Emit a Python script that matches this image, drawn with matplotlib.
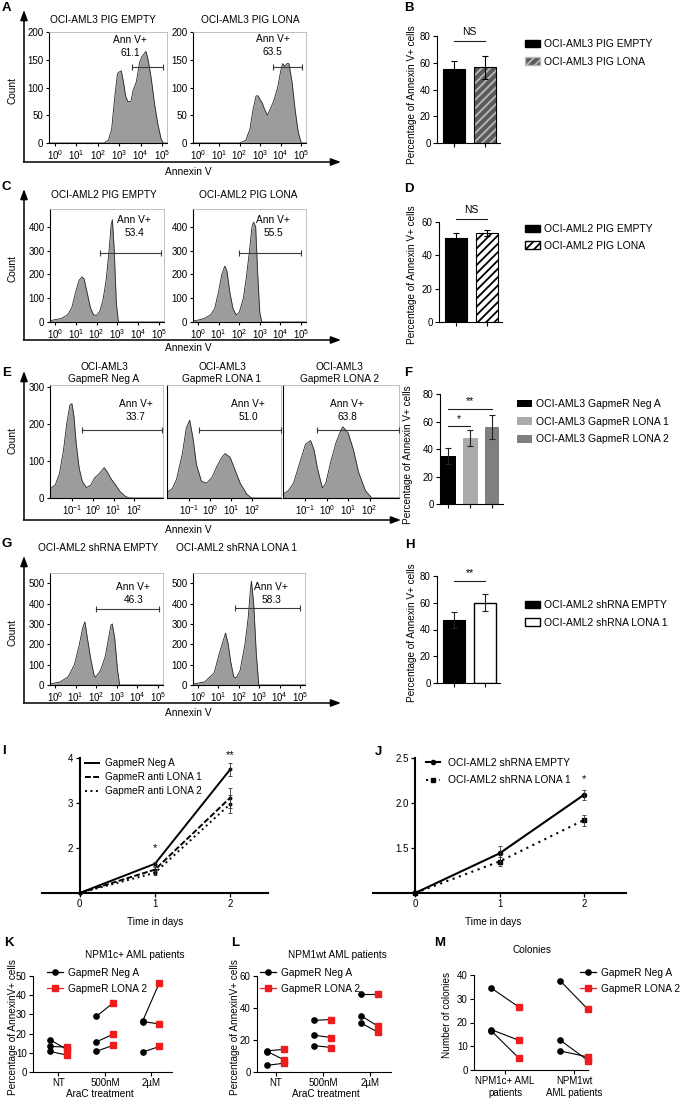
import numpy as np
import matplotlib
matplotlib.use("Agg")
import matplotlib.pyplot as plt
from matplotlib.ticker import LogLocator, NullFormatter, FormatStrFormatter
from matplotlib.patches import Patch
from matplotlib.lines import Line2D

plt.rcParams.update({
    "font.family": ["Liberation Sans", "DejaVu Sans"],
    "mathtext.fontset": "custom",
    "mathtext.rm": "Liberation Sans",
    "mathtext.it": "Liberation Sans:italic",
    "mathtext.bf": "Liberation Sans:bold",
    "mathtext.sf": "Liberation Sans",
    "font.size": 7,
    "axes.linewidth": 0.8,
    "xtick.major.size": 3, "ytick.major.size": 3,
    "xtick.major.width": 0.8, "ytick.major.width": 0.8,
    "xtick.major.pad": 1.5, "ytick.major.pad": 1.5,
    "xtick.labelsize": 7, "ytick.labelsize": 7,
    "hatch.linewidth": 1.3,
})

# ---------------- DATA ----------------
# Flow histograms: x = Annexin V intensity (log10 decade), y = count
A1_LOG = [-0.25, 2.3, 2.5, 2.65, 2.8, 2.92, 3.0, 3.1, 3.2, 3.3, 3.4, 3.55, 3.65, 3.8, 3.95, 4.05, 4.15, 4.25, 4.35, 4.5, 4.65, 4.8, 4.95, 5.05, 5.25]
A1_CNT = [0, 0, 5, 25, 85, 125, 128, 130, 110, 85, 75, 75, 95, 110, 145, 155, 160, 165, 150, 115, 70, 35, 8, 0, 0]
A2_LOG = [-0.25, 2.0, 2.3, 2.5, 2.65, 2.8, 2.9, 3.0, 3.1, 3.2, 3.35, 3.5, 3.65, 3.85, 4.0, 4.1, 4.2, 4.3, 4.4, 4.55, 4.7, 4.85, 5.0, 5.25]
A2_CNT = [0, 0, 5, 25, 60, 85, 85, 78, 72, 62, 50, 62, 75, 100, 130, 143, 138, 143, 143, 110, 60, 20, 0, 0]
C1_LOG = [-0.25, 0.0, 0.3, 0.6, 0.8, 1.0, 1.15, 1.3, 1.4, 1.55, 1.7, 1.85, 2.0, 2.15, 2.3, 2.45, 2.6, 2.7, 2.76, 2.85, 2.95, 3.05, 5.25]
C1_CNT = [5, 10, 15, 30, 60, 130, 175, 190, 180, 120, 60, 30, 28, 45, 90, 170, 300, 410, 430, 300, 80, 0, 0]
C2_LOG = [-0.25, 0.0, 0.3, 0.6, 0.8, 1.0, 1.15, 1.3, 1.4, 1.55, 1.7, 1.85, 2.0, 2.2, 2.35, 2.5, 2.62, 2.7, 2.8, 2.9, 3.0, 3.1, 5.25]
C2_CNT = [5, 8, 15, 30, 55, 130, 200, 235, 215, 120, 55, 30, 40, 100, 190, 300, 400, 420, 400, 200, 40, 0, 0]
E1_LOG = [-2.05, -1.8, -1.6, -1.4, -1.25, -1.1, -1.0, -0.9, -0.8, -0.65, -0.5, -0.3, -0.1, 0.1, 0.3, 0.45, 0.55, 0.7, 0.9, 1.1, 1.3, 1.55, 1.75, 3.37]
E1_CNT = [25, 35, 65, 130, 200, 250, 255, 220, 150, 80, 45, 28, 35, 55, 65, 75, 82, 70, 50, 35, 18, 5, 0, 0]
E2_LOG = [-2.08, -1.8, -1.6, -1.32, -1.13, -0.97, -0.81, -0.65, -0.41, -0.17, 0.08, 0.32, 0.56, 0.71, 0.95, 1.19, 1.43, 1.75, 1.97, 3.37]
E2_CNT = [15, 25, 50, 120, 190, 210, 160, 90, 45, 40, 55, 85, 110, 120, 110, 75, 40, 10, 0, 0]
E3_LOG = [-2.05, -1.8, -1.56, -1.24, -1.0, -0.76, -0.6, -0.44, -0.21, -0.05, 0.19, 0.43, 0.67, 0.75, 1.0, 1.24, 1.48, 1.8, 2.1, 3.37]
E3_CNT = [10, 20, 40, 100, 145, 155, 130, 80, 27, 40, 100, 150, 185, 192, 175, 130, 70, 20, 0, 0]
G1_LOG = [-0.25, 0.24, 0.63, 0.94, 1.18, 1.34, 1.45, 1.57, 1.73, 1.89, 1.97, 2.2, 2.44, 2.6, 2.72, 2.78, 2.9, 3.03, 3.14, 5.25]
G1_CNT = [5, 15, 40, 100, 200, 280, 310, 230, 130, 50, 38, 70, 140, 230, 295, 300, 230, 80, 0, 0]
G2_LOG = [-0.25, 0.32, 0.79, 1.03, 1.24, 1.35, 1.48, 1.59, 1.75, 1.87, 2.06, 2.3, 2.46, 2.57, 2.62, 2.73, 2.86, 2.98, 5.25]
G2_CNT = [5, 15, 60, 150, 220, 255, 200, 120, 40, 35, 70, 200, 330, 470, 510, 400, 150, 0, 0]

A_TITLES = ["OCI-AML3 PIG EMPTY", "OCI-AML3 PIG LONA"]
C_TITLES = ["OCI-AML2 PIG EMPTY", "OCI-AML2 PIG LONA"]
E_TITLES = ["OCI-AML3\nGapmeR Neg A", "OCI-AML3\nGapmeR LONA 1", "OCI-AML3\nGapmeR LONA 2"]
G_TITLES = ["OCI-AML2 shRNA EMPTY", "OCI-AML2 shRNA LONA 1"]
A_PCT = ["61.1", "63.5"]
C_PCT = ["53.4", "55.5"]
E_PCT = ["33.7", "51.0", "63.8"]
G_PCT = ["46.3", "58.3"]
# gates: (low log10, high log10, count level)
A_GATES = [(3.6, 5.03, 137), (3.6, 5.05, 137)]
C_GATES = [(2.15, 5.1, 289), (1.99, 5.0, 289)]
E_GATES = [(-0.52, 3.33, 183), (-0.52, 3.37, 183), (-0.44, 3.37, 183)]
G_GATES = [(1.97, 5.06, 374), (1.83, 4.98, 377)]

# Bar panels: percentage of Annexin V+ cells
B_LABELS = ["OCI-AML3 PIG EMPTY", "OCI-AML3 PIG LONA"]
B_VALS = [55.0, 56.5]
B_ERR = [6.5, 8.5]
D_LABELS = ["OCI-AML2 PIG EMPTY", "OCI-AML2 PIG LONA"]
D_VALS = [50.5, 53.5]
D_ERR = [3.0, 2.0]
F_LABELS = ["OCI-AML3 GapmeR Neg A", "OCI-AML3 GapmeR LONA 1", "OCI-AML3 GapmeR LONA 2"]
F_VALS = [35.0, 48.0, 56.0]
F_ERR = [6.0, 5.5, 8.5]
H_LABELS = ["OCI-AML2 shRNA EMPTY", "OCI-AML2 shRNA LONA 1"]
H_VALS = [47.0, 60.0]
H_ERR = [6.0, 6.5]

# Viability curves
DAYS = [0, 1, 2]
I_LABELS = ["GapmeR Neg A", "GapmeR anti LONA 1", "GapmeR anti LONA 2"]
I_VALS = [[1.0, 1.65, 3.75], [1.0, 1.52, 3.12], [1.0, 1.45, 2.98]]
I_ERR = [[0, 0.04, 0.15], [0, 0.05, 0.22], [0, 0.05, 0.2]]
J_LABELS = ["OCI-AML2 shRNA EMPTY", "OCI-AML2 shRNA LONA 1"]
J_VALS = [[1.0, 1.44, 2.09], [1.0, 1.35, 1.81]]
J_ERR = [[0, 0.08, 0.06], [0, 0.05, 0.06]]

# Patient panels (paired: Neg A -> LONA 2)
KL_CATS = ["NT", "500nM", "2\u00b5M"]
K_NEG = [[16.7, 13.3, 10.7], [29.0, 15.7, 10.8], [26.7, 26.3, 10.4]]
K_LONA = [[11.8, 13.0, 8.8], [36.0, 19.7, 13.9], [46.6, 25.0, 13.3]]
L_NEG = [[13.2, 12.8, 4.2], [32.3, 23.0, 16.5], [48.5, 35.0, 30.5]]
L_LONA = [[14.2, 7.5, 5.5], [32.8, 21.5, 15.3], [48.5, 28.5, 24.8]]
M_CATS = ["NPM1c+ AML\npatients", "NPM1wt\nAML patients"]
M_NEG = [[34.5, 17.0, 16.5], [37.5, 12.5, 8.0]]
M_LONA = [[26.5, 12.5, 5.0], [25.5, 4.0, 5.5]]
PAIR_LABELS = ["GapmeR Neg A", "GapmeR LONA 2"]

# ---------------- LAYOUT HELPERS ----------------
W, H = 683, 1100
fig = plt.figure(figsize=(W / 100, H / 100), dpi=100)

def R(x0, y0, x1, y1):
    return [x0 / W, 1 - y1 / H, (x1 - x0) / W, (y1 - y0) / H]

def FP(x, y):
    return (x / W, 1 - y / H)

ov = fig.add_axes([0, 0, 1, 1], zorder=-5)
ov.set_xlim(0, W)
ov.set_ylim(H, 0)
ov.axis("off")

def T(x, y, s, **kw):
    kw.setdefault("ha", "center")
    kw.setdefault("va", "center")
    ov.text(x, y, s, **kw)

def letter(x, y, s):
    ov.text(x, y, s, fontsize=9.5, fontweight="bold", ha="left", va="top")

def big_axes(x, ytop, ybot, xright):
    ap = dict(arrowstyle="-|>,head_length=0.6,head_width=0.22", lw=1.1, color="k",
              shrinkA=0, shrinkB=0, mutation_scale=10)
    ov.annotate("", xy=(x, ytop), xytext=(x, ybot), arrowprops=ap)
    ov.annotate("", xy=(xright, ybot), xytext=(x - 0.5, ybot), arrowprops=ap)

HIST_FILL = "#9c9c9c"

def hist(rect, logs, cnts, xr, ymax, yticks, xticks, gate, lab, pct):
    ax = fig.add_axes(R(*rect))
    xs = np.power(10.0, np.asarray(logs, float))
    ax.fill_between(xs, cnts, 0, color=HIST_FILL, lw=0, zorder=1)
    ax.plot(xs, cnts, color="#262626", lw=0.6, zorder=2)
    ax.set_xscale("log")
    ax.set_xlim(10 ** xr[0], 10 ** xr[1])
    ax.set_ylim(0, ymax)
    ax.set_yticks(yticks)
    ax.set_xticks(xticks)
    ax.xaxis.set_minor_locator(LogLocator(base=10, subs=np.arange(2, 10)))
    ax.xaxis.set_minor_formatter(NullFormatter())
    ax.tick_params(which="minor", length=1.5, width=0.5)
    ax.tick_params(which="major", length=2.5, labelsize=7)
    for s in ("top", "right"):
        ax.spines[s].set_color("#b5b5b5")
        ax.spines[s].set_linewidth(0.6)
    g0, g1, gy = gate
    ax.plot([10 ** g0, 10 ** g1], [gy, gy], color="#3a3a3a", lw=0.8,
            marker="|", ms=4, mew=0.8, zorder=3, clip_on=False)
    ax.text(10 ** lab[0], lab[1], "Ann V+\n" + pct, ha="center", va="center",
            fontsize=7.3, linespacing=1.35, zorder=4)
    return ax

def bar_axes(rect, xlim, ylim, yticks, n):
    ax = fig.add_axes(R(*rect))
    ax.set_xlim(*xlim)
    ax.set_ylim(*ylim)
    ax.set_yticks(yticks)
    ax.set_xticks(range(n))
    ax.set_xticklabels([""] * n)
    for s in ("top", "right"):
        ax.spines[s].set_visible(False)
    ax.tick_params(length=3, labelsize=7)
    return ax

def sig(ax, x0, x1, y, txt, ty):
    ax.plot([x0, x1], [y, y], color="#222222", lw=0.8, clip_on=False)
    ax.text((x0 + x1) / 2, ty, txt, ha="center", va="center", fontsize=7.5, clip_on=False)

def bar_legend(ax, handles, labels, x, y, spacing=0.75):
    ax.legend(handles, labels, loc="upper left", bbox_to_anchor=FP(x, y),
              bbox_transform=fig.transFigure, frameon=False, fontsize=7.5,
              handlelength=1.45, handleheight=0.75, handletextpad=0.35,
              labelspacing=spacing, borderpad=0, borderaxespad=0)

# ---------------- PANEL A ----------------
letter(2, 2, "A")
big_axes(24, 10, 162, 341)
T(12, 90, "Count", rotation=90, fontsize=7.3)
T(188, 172, "Annexin V", fontsize=7.3)
DEC5 = [1, 10, 100, 1e3, 1e4, 1e5]
hist((49, 32, 167, 143), A1_LOG, A1_CNT, (-0.27, 5.23), 200, [0, 50, 100, 150, 200], DEC5,
     A_GATES[0], (3.5, 174), A_PCT[0])
hist((193, 32, 306, 143), A2_LOG, A2_CNT, (-0.27, 5.23), 200, [0, 50, 100, 150, 200], DEC5,
     A_GATES[1], (3.6, 176), A_PCT[1])
T(103, 20, A_TITLES[0], fontsize=7.3)
T(250, 20, A_TITLES[1], fontsize=7.3)

# ---------------- PANEL B ----------------
letter(404, 2, "B")
axB = bar_axes((437, 36, 500, 143), (-0.55, 1.48), (0, 80), [0, 20, 40, 60, 80], 2)
axB.bar([0], [B_VALS[0]], 0.7, color="black", edgecolor="black", lw=0.8)
axB.bar([1], [B_VALS[1]], 0.7, color="#5a5a5a", edgecolor="#b9b9b9", hatch="////", lw=0)
axB.bar([1], [B_VALS[1]], 0.7, color="none", edgecolor="black", lw=0.8)
axB.errorbar([0, 1], B_VALS, yerr=B_ERR, fmt="none", ecolor="black", elinewidth=0.8, capsize=2.5, capthick=0.8)
sig(axB, 0, 1, 76, "NS", 83)
T(412, 95, "Percentage of Annexin V+ cells", rotation=90, fontsize=7.2)
bar_legend(axB, [Patch(facecolor="black", edgecolor="black"),
                 Patch(facecolor="#5a5a5a", edgecolor="#b9b9b9", hatch="////")],
           B_LABELS, 525, 39)

# ---------------- PANEL C ----------------
letter(2, 181, "C")
big_axes(24, 189, 340, 341)
T(12, 268, "Count", rotation=90, fontsize=7.3)
T(188, 348, "Annexin V", fontsize=7.3)
hist((50, 209, 164, 322), C1_LOG, C1_CNT, (-0.25, 5.25), 475, [0, 100, 200, 300, 400], DEC5,
     C_GATES[0], (3.8, 403), C_PCT[0])
hist((193, 209, 306, 322), C2_LOG, C2_CNT, (-0.25, 5.25), 475, [0, 100, 200, 300, 400], DEC5,
     C_GATES[1], (3.64, 403), C_PCT[1])
T(104, 195, C_TITLES[0], fontsize=7.3)
T(248, 195, C_TITLES[1], fontsize=7.3)

# ---------------- PANEL D ----------------
letter(404, 183, "D")
axD = bar_axes((439, 222, 502, 322), (-0.55, 1.48), (0, 60), [0, 20, 40, 60], 2)
axD.bar([0], [D_VALS[0]], 0.7, color="black", edgecolor="black", lw=0.8)
axD.bar([1], [D_VALS[1]], 0.7, color="white", edgecolor="black", hatch="////", lw=0.8)
axD.errorbar([0, 1], D_VALS, yerr=D_ERR, fmt="none", ecolor="black", elinewidth=0.8, capsize=2.5, capthick=0.8)
sig(axD, 0, 1, 61.8, "NS", 67)
T(412, 275, "Percentage of Annexin V+ cells", rotation=90, fontsize=7.2)
bar_legend(axD, [Patch(facecolor="black", edgecolor="black"),
                 Patch(facecolor="white", edgecolor="black", hatch="////")],
           D_LABELS, 525, 224, spacing=0.65)

# ---------------- PANEL E ----------------
letter(2, 367, "E")
big_axes(24, 371, 520, 401)
T(12, 440, "Count", rotation=90, fontsize=7.3)
T(188, 530, "Annexin V", fontsize=7.3)
DECE = [0.1, 1, 10, 100]
E_RECTS = [(50, 385, 163, 498), (167, 385, 281, 498), (283, 385, 399, 498)]
E_DATA = [(E1_LOG, E1_CNT), (E2_LOG, E2_CNT), (E3_LOG, E3_CNT)]
E_LABPOS = [(2.05, 237), (1.81, 237), (0.94, 237)]
for k in range(3):
    axh = hist(E_RECTS[k], E_DATA[k][0], E_DATA[k][1], (-2.05, 3.37), 305, [0, 100, 200, 300],
               DECE, E_GATES[k], E_LABPOS[k], E_PCT[k])
    if k > 0:
        axh.set_yticklabels([])
        axh.tick_params(axis="y", length=0)
E_TX = [104, 222, 339]
for k in range(3):
    T(E_TX[k], 373, E_TITLES[k], fontsize=7.3, linespacing=1.15)

# ---------------- PANEL F ----------------
letter(404, 367, "F")
axF = bar_axes((440, 394, 503, 504), (-0.37, 2.5), (0, 80), [0, 20, 40, 60, 80], 3)
F_COLORS = ["black", "#ababab", "#7f7f7f"]
axF.bar(range(3), F_VALS, 0.68, color=F_COLORS, lw=0)
axF.errorbar(range(3), F_VALS, yerr=F_ERR, fmt="none", ecolor="#222222", elinewidth=0.8, capsize=2.5, capthick=0.8)
sig(axF, 0, 1, 56.5, "*", 61.5)
sig(axF, 0, 2, 69, "**", 74.5)
T(408, 455, "Percentage of Annexin V+ cells", rotation=90, fontsize=7.2)
bar_legend(axF, [Patch(facecolor=c) for c in F_COLORS], F_LABELS, 517, 399, spacing=0.74)

# ---------------- PANEL G ----------------
letter(2, 538, "G")
big_axes(24, 556, 703, 341)
T(12, 633, "Count", rotation=90, fontsize=7.3)
T(188, 713, "Annexin V", fontsize=7.3)
hist((50, 573, 163, 685), G1_LOG, G1_CNT, (-0.25, 5.25), 550, [0, 100, 200, 300, 400, 500], DEC5,
     G_GATES[0], (3.8, 450), G_PCT[0])
hist((193, 573, 305, 685), G2_LOG, G2_CNT, (-0.25, 5.25), 550, [0, 100, 200, 300, 400, 500], DEC5,
     G_GATES[1], (3.6, 450), G_PCT[1])
T(98, 548, G_TITLES[0], fontsize=7.3)
T(236, 548, G_TITLES[1], fontsize=7.3)

# ---------------- PANEL H ----------------
letter(405, 539, "H")
axH = bar_axes((437, 576, 500, 683), (-0.55, 1.48), (0, 80), [0, 20, 40, 60, 80], 2)
axH.bar([0], [H_VALS[0]], 0.7, color="black", edgecolor="black", lw=0.8)
axH.bar([1], [H_VALS[1]], 0.7, color="white", edgecolor="black", lw=1.0)
axH.errorbar([0, 1], H_VALS, yerr=H_ERR, fmt="none", ecolor="#222222", elinewidth=0.8, capsize=2.5, capthick=0.8)
sig(axH, 0, 1, 76.5, "**", 82)
T(412, 633, "Percentage of Annexin V+ cells", rotation=90, fontsize=7.2)
bar_legend(axH, [Patch(facecolor="black", edgecolor="black"),
                 Patch(facecolor="white", edgecolor="black", lw=1.0)],
           H_LABELS, 525, 600)

# ---------------- PANEL I ----------------
def viability_axes(rect, ylim, yticks):
    ax = fig.add_axes(R(*rect))
    ax.set_xlim(-0.5, 2.5)
    ax.set_ylim(*ylim)
    ax.spines["left"].set_position(("data", 0))
    for s in ("top", "right"):
        ax.spines[s].set_visible(False)
    ax.spines["left"].set_linewidth(1.5)
    ax.spines["bottom"].set_linewidth(1.5)
    ax.set_xticks(DAYS)
    ax.set_yticks(yticks)
    ax.tick_params(length=3, width=0.9, labelsize=7)
    return ax

letter(2, 745, "I")
axI = viability_axes((42, 758, 268, 893), (1, 4), [2, 3, 4])
I_STYLES = [dict(ls="-"), dict(ls=(0, (3, 1.2))), dict(ls=(0, (1, 1.8)))]
hI = []
for k in range(3):
    axI.plot(DAYS, I_VALS[k], color="black", lw=1.4, marker="o", ms=1.8, clip_on=False, **I_STYLES[k])
    axI.errorbar(DAYS, I_VALS[k], yerr=I_ERR[k], fmt="none", ecolor="#333333", elinewidth=0.6, capsize=1.6, capthick=0.6)
    hI.append(Line2D([], [], color="black", lw=1.4, **I_STYLES[k]))
axI.text(1, 2.0, "*", ha="center", va="center", fontsize=8)
axI.text(2, 4.07, "**", ha="center", va="center", fontsize=8, clip_on=False)
axI.legend(hI, I_LABELS, loc="upper left", bbox_to_anchor=FP(85, 758), bbox_transform=fig.transFigure,
           frameon=False, fontsize=7.2, handlelength=1.4, handletextpad=0.6, labelspacing=0.4,
           borderpad=0, borderaxespad=0)
T(57, 812, "Relative Cell Viability", rotation=90, fontsize=7.2)
T(155, 922, "Time in days", fontsize=7.2)

# ---------------- PANEL J ----------------
letter(375, 746, "J")
axJ = viability_axes((373, 758, 626, 893), (1, 2.5), [1.5, 2.0, 2.5])
axJ.yaxis.set_major_formatter(FormatStrFormatter("%.1f"))
J_STYLES = [dict(ls="-", marker="o", ms=3), dict(ls=(0, (1, 2.2)), marker="s", ms=3.2)]
hJ = []
for k in range(2):
    axJ.plot(DAYS, J_VALS[k], color="black", lw=1.5, clip_on=False, **J_STYLES[k])
    axJ.errorbar(DAYS, J_VALS[k], yerr=J_ERR[k], fmt="none", ecolor="#333333", elinewidth=0.6, capsize=1.6, capthick=0.6)
    hJ.append(Line2D([], [], color="black", lw=1.5, **J_STYLES[k]))
axJ.text(2, 2.27, "*", ha="center", va="center", fontsize=8)
axJ.legend(hJ, J_LABELS, loc="upper left", bbox_to_anchor=FP(426, 758), bbox_transform=fig.transFigure,
           frameon=False, fontsize=7.4, handlelength=1.4, handletextpad=0.7, labelspacing=0.7,
           borderpad=0, borderaxespad=0)
T(383, 833, "Relative Cell Viability", rotation=90, fontsize=7.2)
T(493, 922, "Time in days", fontsize=7.2)

# ---------------- PANELS K, L, M ----------------
RED = "#ee1c1c"

def paired(rect, cats, neg, lona, xlim, ylim, yticks, d):
    ax = fig.add_axes(R(*rect))
    for i in range(len(cats)):
        for a, b in zip(neg[i], lona[i]):
            ax.plot([i - d, i + d], [a, b], color="black", lw=0.8, zorder=2)
        ax.plot([i - d] * len(neg[i]), neg[i], ls="none", marker="o", ms=3.8, color="black", zorder=3, clip_on=False)
        ax.plot([i + d] * len(lona[i]), lona[i], ls="none", marker="s", ms=3.8, color=RED, zorder=3, clip_on=False)
    ax.set_xlim(*xlim)
    ax.set_ylim(*ylim)
    ax.set_yticks(yticks)
    ax.set_xticks(range(len(cats)))
    ax.set_xticklabels(cats)
    for s in ("top", "right"):
        ax.spines[s].set_visible(False)
    ax.tick_params(length=3, labelsize=7)
    hs = [Line2D([], [], color="black", lw=0.9, marker="o", ms=3.8),
          Line2D([], [], color=RED, lw=0.9, marker="s", ms=3.8)]
    return ax, hs

def pair_legend(ax, hs, x, y):
    ax.legend(hs, PAIR_LABELS, loc="upper left", bbox_to_anchor=FP(x, y), bbox_transform=fig.transFigure,
              frameon=False, fontsize=7.3, handlelength=1.6, handletextpad=0.5, labelspacing=0.55,
              borderpad=0, borderaxespad=0)

letter(4, 937, "K")
axK, hK = paired((33, 976, 172, 1072), KL_CATS, K_NEG, K_LONA, (-0.55, 2.45), (0, 50), [0, 10, 20, 30, 40, 50], 0.18)
pair_legend(axK, hK, 47, 968)
T(135, 955, "NPM1c+ AML patients", fontsize=7.2)
T(13, 1027, "Percentage of AnnexinV+ cells", rotation=90, fontsize=7.2)
T(100, 1094, "AraC treatment", fontsize=7.2)

letter(231, 937, "L")
axL, hL = paired((257, 976, 391, 1072), KL_CATS, L_NEG, L_LONA, (-0.4, 2.45), (0, 60), [0, 20, 40, 60], 0.18)
pair_legend(axL, hL, 260, 968)
T(337, 955, "NPM1wt AML patients", fontsize=7.2)
T(235, 1027, "Percentage of AnnexinV+ cells", rotation=90, fontsize=7.2)
T(326, 1094, "AraC treatment", fontsize=7.2)

letter(434, 937, "M")
axM, hM = paired((474, 975, 588, 1070), M_CATS, M_NEG, M_LONA, (-0.45, 1.2), (0, 40), [0, 10, 20, 30, 40], 0.2)
pair_legend(axM, hM, 580, 968)
T(532, 950, "Colonies", fontsize=7.2)
T(447, 1015, "Number of colonies", rotation=90, fontsize=7.2)

fig.savefig("out.png", dpi=100)
